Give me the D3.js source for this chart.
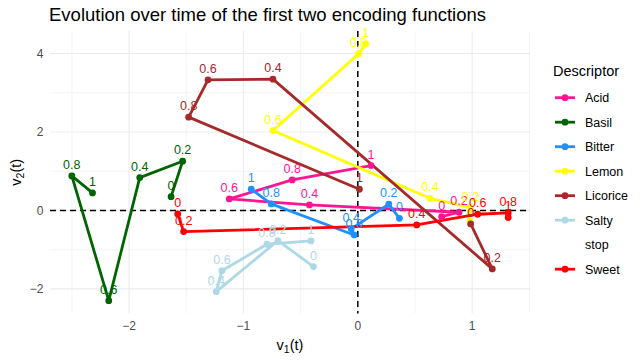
<!DOCTYPE html>
<html>
<head>
<meta charset="utf-8">
<script src="https://cdn.jsdelivr.net/npm/d3@7"></script>
<style>
  body { margin: 0; background: #fff; }
  svg { font-family: "Liberation Sans", Arial, sans-serif; }
</style>
</head>
<body>
<div id="chart"></div>
<script>
// time steps shown as point labels
const times = [0, 0.2, 0.4, 0.6, 0.8, 1];
const timeLabels = ["0", "0.2", "0.4", "0.6", "0.8", "1"];

// [v1, v2] per time step
const acid     = [[0.733, -0.158], [0.885, -0.046], [-0.423, 0.14], [-1.124, 0.293], [-0.574, 0.778], [0.116, 1.143]];
const basil    = [[-1.633, 0.352], [-1.532, 1.255], [-1.907, 0.837], [-2.178, -2.30], [-2.501, 0.88], [-2.320, 0.446]];
const bitter   = [[0.364, -0.20], [0.271, 0.158], [-0.058, -0.47], [-0.032, -0.625], [-0.757, 0.166], [-0.932, 0.54]];
const lemon    = [[0.98, -0.27], [0.985, 0.07], [0.631, 0.31], [-0.742, 2.036], [0.005, 3.99], [0.070, 4.247]];
const licorice = [[0.987, -0.344], [1.176, -1.49], [-0.742, 3.347], [-1.310, 3.329], [-1.479, 2.378], [0.014, 0.54]];
const salty    = [[-0.388, -1.43], [-0.699, -0.77], [-1.238, -2.07], [-1.188, -1.536], [-0.795, -0.862], [-0.41, -0.778]];
const sweet    = [[-1.575, -0.09], [-1.523, -0.54], [0.515, -0.37], [1.048, -0.097], [1.315, -0.064], [1.315, -0.18]];

const descriptors = ["Acid", "Basil", "Bitter", "Lemon", "Licorice", "Salty", "stop", "Sweet"];
const colors = ["#FF1493", "#006400", "#1E90FF", "#FFFF00", "#A52A2A", "#ADD8E6", null, "#FF0000"];
const seriesData = [acid, basil, bitter, lemon, licorice, salty, null, sweet];

const xMajor = [-2, -1, 0, 1];
const xMinor = [-2.5, -1.5, -0.5, 0.5, 1.5];
const yMajor = [-2, 0, 2, 4];
const yMinor = [-1, 1, 3];

// build series
const series = descriptors.map((name, i) => ({
    name: name,
    color: colors[i],
    points: seriesData[i] ? seriesData[i].map((p, j) => ({ v1: p[0], v2: p[1], t: times[j], label: timeLabels[j] })) : []
}));
const drawn = series.filter(s => s.points.length > 0);
const allPts = drawn.flatMap(s => s.points);

const W = 643, H = 364;
const panel = { left: 50, right: 530, top: 31, bottom: 313.5 };

const svg = d3.select("#chart").append("svg")
    .attr("width", W)
    .attr("height", H);

// scales with 5% expansion like ggplot
function expand(ext) {
    const r = ext[1] - ext[0];
    return [ext[0] - r * 0.05, ext[1] + r * 0.05];
}
const x = d3.scaleLinear()
    .domain(expand(d3.extent(allPts, d => d.v1)))
    .range([panel.left, panel.right]);
const y = d3.scaleLinear()
    .domain(expand(d3.extent(allPts, d => d.v2)))
    .range([panel.bottom, panel.top]);

// grid
const grid = svg.append("g");
grid.selectAll(".xminor").data(xMinor.filter(v => x(v) >= panel.left && x(v) <= panel.right)).enter()
    .append("line")
    .attr("x1", d => x(d)).attr("x2", d => x(d))
    .attr("y1", panel.top).attr("y2", panel.bottom)
    .attr("stroke", "#ebebeb").attr("stroke-width", 0.55);
grid.selectAll(".yminor").data(yMinor).enter()
    .append("line")
    .attr("y1", d => y(d)).attr("y2", d => y(d))
    .attr("x1", panel.left).attr("x2", panel.right)
    .attr("stroke", "#ebebeb").attr("stroke-width", 0.55);
grid.selectAll(".xmajor").data(xMajor).enter()
    .append("line")
    .attr("x1", d => x(d)).attr("x2", d => x(d))
    .attr("y1", panel.top).attr("y2", panel.bottom)
    .attr("stroke", "#ebebeb").attr("stroke-width", 1.1);
grid.selectAll(".ymajor").data(yMajor).enter()
    .append("line")
    .attr("y1", d => y(d)).attr("y2", d => y(d))
    .attr("x1", panel.left).attr("x2", panel.right)
    .attr("stroke", "#ebebeb").attr("stroke-width", 1.1);

// axis tick labels
svg.append("g").selectAll("text").data(xMajor).enter()
    .append("text")
    .attr("x", d => x(d))
    .attr("y", 330)
    .attr("text-anchor", "middle")
    .style("font-size", "12px")
    .style("fill", "#4d4d4d")
    .text(d => d < 0 ? "\u2212" + Math.abs(d) : d);
svg.append("g").selectAll("text").data(yMajor).enter()
    .append("text")
    .attr("x", 43.5)
    .attr("y", d => y(d))
    .attr("dy", "0.35em")
    .attr("text-anchor", "end")
    .style("font-size", "12px")
    .style("fill", "#4d4d4d")
    .text(d => d < 0 ? "\u2212" + Math.abs(d) : d);

// reference lines at 0
svg.append("line")
    .attr("x1", panel.left).attr("x2", panel.right)
    .attr("y1", y(0)).attr("y2", y(0))
    .attr("stroke", "#000").attr("stroke-width", 1.5)
    .attr("stroke-dasharray", "6,4");
svg.append("line")
    .attr("x1", x(0)).attr("x2", x(0))
    .attr("y1", panel.top).attr("y2", panel.bottom)
    .attr("stroke", "#000").attr("stroke-width", 1.5)
    .attr("stroke-dasharray", "6,4");

// paths
const line = d3.line().x(d => x(d.v1)).y(d => y(d.v2));
svg.append("g").selectAll("path").data(drawn).enter()
    .append("path")
    .attr("d", d => line(d.points))
    .attr("fill", "none")
    .attr("stroke", d => d.color)
    .attr("stroke-width", 2.8)
    .attr("stroke-linejoin", "round");

// points
svg.append("g").selectAll("g").data(drawn).enter()
    .append("g")
    .attr("fill", d => d.color)
    .selectAll("circle").data(d => d.points).enter()
    .append("circle")
    .attr("cx", d => x(d.v1))
    .attr("cy", d => y(d.v2))
    .attr("r", 3.4);

// time labels
svg.append("g").selectAll("g").data(drawn).enter()
    .append("g")
    .attr("fill", d => d.color)
    .selectAll("text").data(d => d.points).enter()
    .append("text")
    .attr("x", d => x(d.v1))
    .attr("y", d => y(d.v2) - 7)
    .attr("text-anchor", "middle")
    .style("font-size", "12.5px")
    .text(d => d.label);

// title
svg.append("text")
    .attr("x", 49)
    .attr("y", 21)
    .style("font-size", "18.5px")
    .style("fill", "#000")
    .text("Evolution over time of the first two encoding functions");

// axis titles
const xt = svg.append("text")
    .attr("x", (panel.left + panel.right) / 2)
    .attr("y", 350)
    .attr("text-anchor", "middle")
    .style("font-size", "14.5px");
xt.append("tspan").text("v");
xt.append("tspan").attr("dy", 3).style("font-size", "10.5px").text("1");
xt.append("tspan").attr("dy", -3).text("(t)");

const yt = svg.append("text")
    .attr("transform", "translate(21," + ((panel.top + panel.bottom) / 2) + ") rotate(-90)")
    .attr("text-anchor", "middle")
    .style("font-size", "14.5px");
yt.append("tspan").text("v");
yt.append("tspan").attr("dy", 3).style("font-size", "10.5px").text("2");
yt.append("tspan").attr("dy", -3).text("(t)");

// legend
const legend = svg.append("g").attr("transform", "translate(553,0)");
legend.append("text")
    .attr("x", 0).attr("y", 75.5)
    .style("font-size", "14.5px")
    .text("Descriptor");
const items = legend.selectAll(".item").data(series).enter()
    .append("g")
    .attr("transform", (d, i) => "translate(0," + (97.7 + i * 24.5) + ")");
items.filter(d => d.color)
    .append("line")
    .attr("x1", 2).attr("x2", 22)
    .attr("stroke", d => d.color)
    .attr("stroke-width", 2.8);
items.filter(d => d.color)
    .append("circle")
    .attr("cx", 12).attr("r", 3.4)
    .attr("fill", d => d.color);
items.append("text")
    .attr("x", 32)
    .attr("dy", "0.35em")
    .style("font-size", "12.5px")
    .text(d => d.name);
</script>
</body>
</html>
